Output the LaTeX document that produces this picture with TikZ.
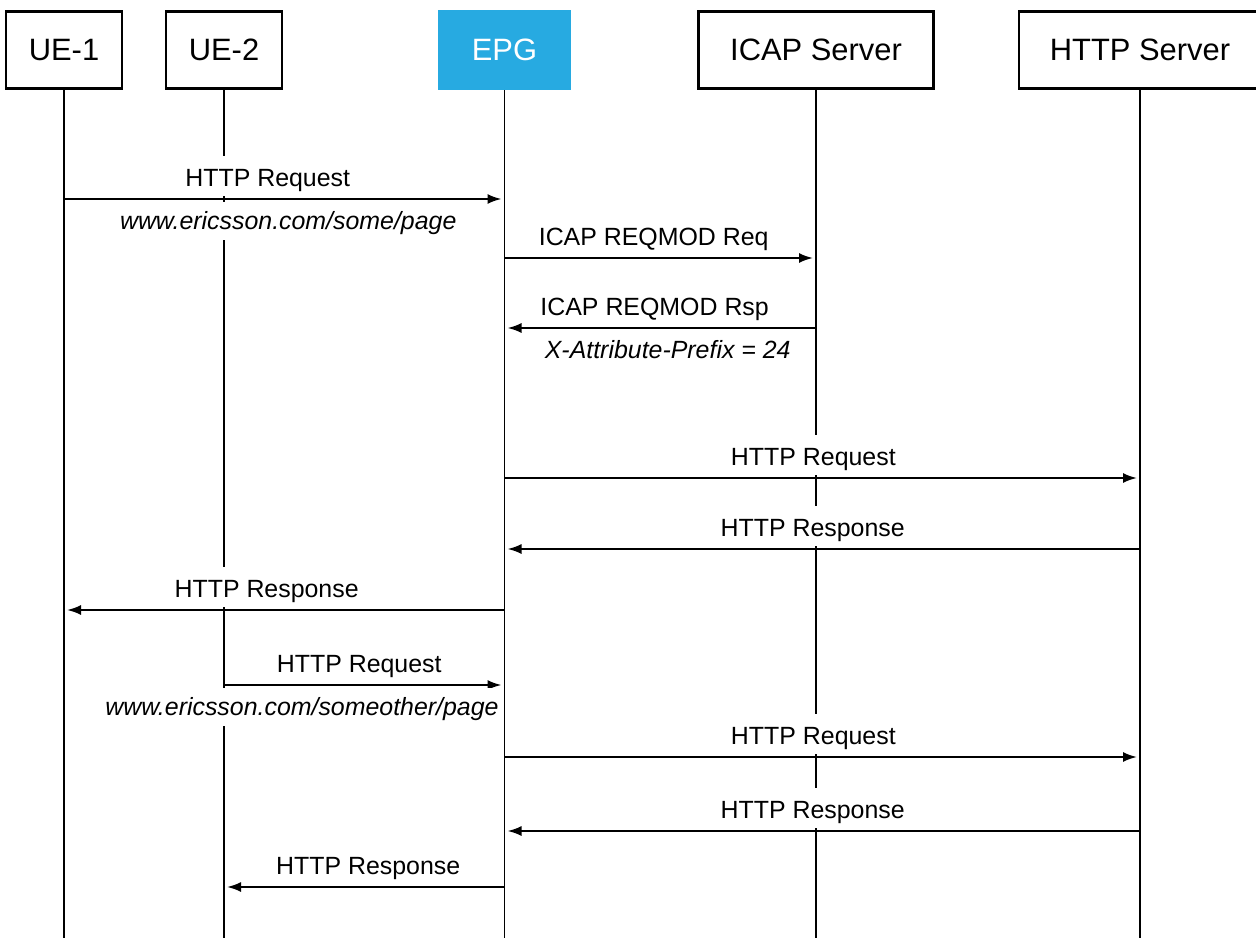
\documentclass[tikz,border=0pt]{standalone}
\usepackage{fontspec}
\setmainfont{Liberation Sans}
\usetikzlibrary{arrows.meta}
\definecolor{epgblue}{HTML}{27AAE1}
\begin{document}
\begin{tikzpicture}[x=1bp,y=-1bp,
  actor/.style={draw=black, line width=2.6bp, fill=white, minimum height=77.5bp,
    inner sep=0pt, font=\fontsize{31}{36}\selectfont},
  gateway/.style={fill=epgblue, text=white, minimum height=80bp, minimum width=133bp,
    inner sep=0pt, font=\fontsize{31}{36}\selectfont},
  lifeline/.style={line width=1.2bp},
  msg/.style={line width=2bp, -{Latex[length=14bp,width=10bp]}, shorten >=3bp},
  lblabove/.style={fill=white, inner xsep=2bp, inner ysep=0pt, text height=30bp,
    text depth=10bp, anchor=south, yshift=2bp, font=\fontsize{25}{30}\selectfont},
  lblbelow/.style={fill=white, inner xsep=2bp, inner ysep=0pt, text height=27bp,
    text depth=11bp, anchor=north, yshift=-2bp, font=\fontsize{25}{30}\selectfont\itshape}]
\useasboundingbox (0,0) rectangle (1256,938);
\clip (0,0) rectangle (1256,938);

% participants
\node[actor, minimum width=116bp] (ue1) at (64,50) {UE-1};
\node[actor, minimum width=116bp] (ue2) at (224,50) {UE-2};
\node[gateway] (epg) at (504.5,50) {EPG};
\node[actor, minimum width=235.5bp] (icap) at (816,50) {ICAP Server};
\node[actor, minimum width=242bp] (http) at (1140,50) {HTTP Server};

% lifelines
\coordinate (bot) at (0,938);
\foreach \p in {ue1,ue2,epg,icap,http}
  \draw[lifeline] (\p.south) -- (\p.south |- bot);

% message rows
\coordinate (r1) at (0,199);
\coordinate (r2) at (0,258);
\coordinate (r3) at (0,328);
\coordinate (r4) at (0,478);
\coordinate (r5) at (0,549);
\coordinate (r6) at (0,610);
\coordinate (r7) at (0,685);
\coordinate (r8) at (0,757);
\coordinate (r9) at (0,831);
\coordinate (r10) at (0,887);

\draw[msg] (ue1 |- r1) -- node[lblabove, pos=.4625] {HTTP Request}
  node[lblbelow, pos=.509] {www.ericsson.com/some/page} (epg |- r1);
\draw[msg] (epg |- r2) -- node[lblabove, pos=.479] {ICAP REQMOD Req} (icap |- r2);
\draw[msg] (icap |- r3) -- node[lblabove, pos=.518] {ICAP REQMOD Rsp}
  node[lblbelow, pos=.476] {X-Attribute-Prefix = 24} (epg |- r3);
\draw[msg] (epg |- r4) -- node[lblabove, pos=.486] {HTTP Request} (http |- r4);
\draw[msg] (http |- r5) -- node[lblabove, pos=.515] {HTTP Response} (epg |- r5);
\draw[msg] (epg |- r6) -- node[lblabove, pos=.540] {HTTP Response} (ue1 |- r6);
\draw[msg] (ue2 |- r7) -- node[lblabove, pos=.482] {HTTP Request}
  node[lblbelow, pos=.278] {www.ericsson.com/someother/page} (epg |- r7);
\draw[msg] (epg |- r8) -- node[lblabove, pos=.486] {HTTP Request} (http |- r8);
\draw[msg] (http |- r9) -- node[lblabove, pos=.515] {HTTP Response} (epg |- r9);
\draw[msg] (epg |- r10) -- node[lblabove, pos=.486] {HTTP Response} (ue2 |- r10);
\end{tikzpicture}
\end{document}
